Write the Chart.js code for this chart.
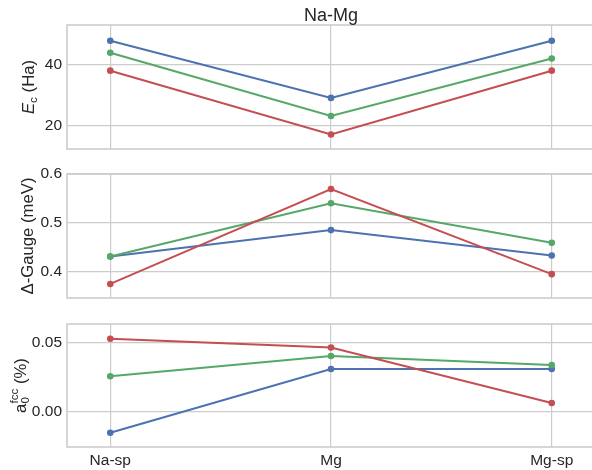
<!DOCTYPE html>
<html>
<head>
<meta charset="utf-8">
<script src="https://cdn.jsdelivr.net/npm/chart.js@4/dist/chart.umd.min.js"></script>
<style>
  html, body { margin: 0; padding: 0; background: #ffffff; overflow: hidden; width: 592px; height: 470px; }
  canvas.panel { position: absolute; left: 0; }
</style>
</head>
<body>
<canvas id="pEc" class="panel" style="top:0px" width="600" height="150"></canvas>
<canvas id="pGauge" class="panel" style="top:150px" width="600" height="150"></canvas>
<canvas id="pA0" class="panel" style="top:300px" width="600" height="170"></canvas>
<script>
// Pseudopotential variants compared for the Na-Mg system
const categories = ['Na-sp', 'Mg', 'Mg-sp'];

// Cutoff energy E_c (Ha)
const ecBlue  = [48.0, 29.1, 48.0];
const ecGreen = [44.0, 23.1, 42.1];
const ecRed   = [38.1, 17.0, 38.1];
const ecTicks = [20, 40];

// Delta-gauge (meV)
const gaugeBlue  = [0.431, 0.485, 0.433];
const gaugeGreen = [0.431, 0.540, 0.459];
const gaugeRed   = [0.375, 0.569, 0.395];
const gaugeTicks = [0.4, 0.5, 0.6];

// fcc lattice constant deviation (%)
const a0Blue  = [-0.0156, 0.0308, 0.0308];
const a0Green = [0.0255, 0.0403, 0.0337];
const a0Red   = [0.0529, 0.0464, 0.0060];
const a0Ticks = [0.00, 0.05];

const BLUE = '#4C72B0', GREEN = '#55A868', RED = '#C44E52';
const TEXT = '#262626', GRID = '#cccccc';
const FAMILY = "'Liberation Sans', Arial, sans-serif";
const LABEL_SIZE = 16.7;

function points(values) {
  return values.map((v, i) => ({ x: i, y: v }));
}

// Light frame around each plot area
const framePlugin = {
  id: 'frame',
  beforeDatasetsDraw(chart) {
    const a = chart.chartArea, ctx = chart.ctx;
    ctx.save();
    ctx.strokeStyle = GRID;
    ctx.lineWidth = 1.6;
    ctx.strokeRect(a.left, a.top, a.right - a.left, a.bottom - a.top);
    ctx.restore();
  }
};

// Rotated axis title with optional sub/superscript pieces
function yLabelPlugin(baseX, parts) {
  return {
    id: 'ylabel',
    afterDraw(chart) {
      const ctx = chart.ctx, a = chart.chartArea;
      ctx.save();
      const widthOf = p => { ctx.font = p.font; return ctx.measureText(p.t).width; };
      const advance = p => p.stack ? Math.max(...p.stack.map(widthOf)) : widthOf(p);
      const total = parts.reduce((s, p) => s + advance(p), 0);
      ctx.translate(baseX, (a.top + a.bottom) / 2);
      ctx.rotate(-Math.PI / 2);
      ctx.fillStyle = TEXT;
      ctx.textAlign = 'left';
      ctx.textBaseline = 'alphabetic';
      let x = -total / 2;
      for (const p of parts) {
        const pieces = p.stack || [p];
        for (const s of pieces) {
          ctx.font = s.font;
          ctx.fillText(s.t, x, s.dy || 0);
        }
        x += advance(p);
      }
      ctx.restore();
    }
  };
}

const titlePlugin = {
  id: 'panelTitle',
  afterDraw(chart) {
    const ctx = chart.ctx, a = chart.chartArea;
    ctx.save();
    ctx.fillStyle = TEXT;
    ctx.font = `18px ${FAMILY}`;
    ctx.textAlign = 'center';
    ctx.textBaseline = 'alphabetic';
    ctx.fillText('Na-Mg', (a.left + a.right) / 2, 20.5);
    ctx.restore();
  }
};

function makePanel(id, cfg) {
  const tickFont = { family: FAMILY, size: 15.5 };
  return new Chart(document.getElementById(id), {
    type: 'line',
    data: {
      datasets: [
        { data: points(cfg.red),   borderColor: RED,   backgroundColor: RED,   order: 0 },
        { data: points(cfg.green), borderColor: GREEN, backgroundColor: GREEN, order: 1 },
        { data: points(cfg.blue),  borderColor: BLUE,  backgroundColor: BLUE,  order: 2 }
      ]
    },
    options: {
      responsive: false,
      animation: false,
      devicePixelRatio: 1,
      layout: { autoPadding: false, padding: { top: cfg.padTop, bottom: cfg.padBottom, left: 0, right: 5 } },
      plugins: { legend: { display: false }, tooltip: { enabled: false } },
      elements: {
        line: { borderWidth: 2, tension: 0 },
        point: { radius: 3.3, borderWidth: 0, hoverRadius: 3.3 }
      },
      scales: {
        x: {
          type: 'linear',
          min: -0.196,
          max: 2.196,
          afterBuildTicks: s => { s.ticks = categories.map((c, i) => ({ value: i })); },
          afterFit: s => { s.height = cfg.xHeight; s.paddingLeft = 0; s.paddingRight = 0; },
          ticks: {
            display: cfg.showX,
            autoSkip: false,
            maxRotation: 0,
            padding: 4,
            color: TEXT,
            font: tickFont,
            callback: v => categories[v]
          },
          grid: { color: GRID, lineWidth: 1.2, drawTicks: false },
          border: { display: false }
        },
        y: {
          min: cfg.min,
          max: cfg.max,
          afterBuildTicks: s => { s.ticks = cfg.ticks.map(v => ({ value: v })); },
          afterFit: s => { s.width = 67; s.paddingTop = 0; s.paddingBottom = 0; },
          ticks: {
            padding: 5,
            color: TEXT,
            font: tickFont,
            callback: v => v.toFixed(cfg.decimals)
          },
          grid: { color: GRID, lineWidth: 1.2, drawTicks: false },
          border: { display: false }
        }
      }
    },
    plugins: [framePlugin, yLabelPlugin(cfg.labelX, cfg.label)].concat(cfg.extra || [])
  });
}

const regular = `${LABEL_SIZE}px ${FAMILY}`;
const small = `${(LABEL_SIZE * 0.7).toFixed(1)}px ${FAMILY}`;

makePanel('pEc', {
  blue: ecBlue, green: ecGreen, red: ecRed, ticks: ecTicks, decimals: 0,
  min: 12.2, max: 53.2, padTop: 25, padBottom: 1, xHeight: 0, showX: false,
  labelX: 33.5,
  label: [
    { t: 'E', font: `italic ${LABEL_SIZE}px ${FAMILY}` },
    { t: 'c', font: small, dy: 3 },
    { t: ' (Ha)', font: regular }
  ],
  extra: [titlePlugin]
});

makePanel('pGauge', {
  blue: gaugeBlue, green: gaugeGreen, red: gaugeRed, ticks: gaugeTicks, decimals: 1,
  min: 0.3463, max: 0.5996, padTop: 24, padBottom: 2, xHeight: 0, showX: false,
  labelX: 33,
  label: [{ t: '\u0394-Gauge (meV)', font: regular }]
});

makePanel('pA0', {
  blue: a0Blue, green: a0Green, red: a0Red, ticks: a0Ticks, decimals: 2,
  min: -0.026, max: 0.0636, padTop: 24, padBottom: 0, xHeight: 23, showX: true,
  labelX: 25.5,
  label: [
    { t: 'a', font: regular },
    { stack: [{ t: '0', font: small, dy: 3.5 }, { t: 'fcc', font: small, dy: -8 }] },
    { t: ' (%)', font: regular }
  ]
});
</script>
</body>
</html>
